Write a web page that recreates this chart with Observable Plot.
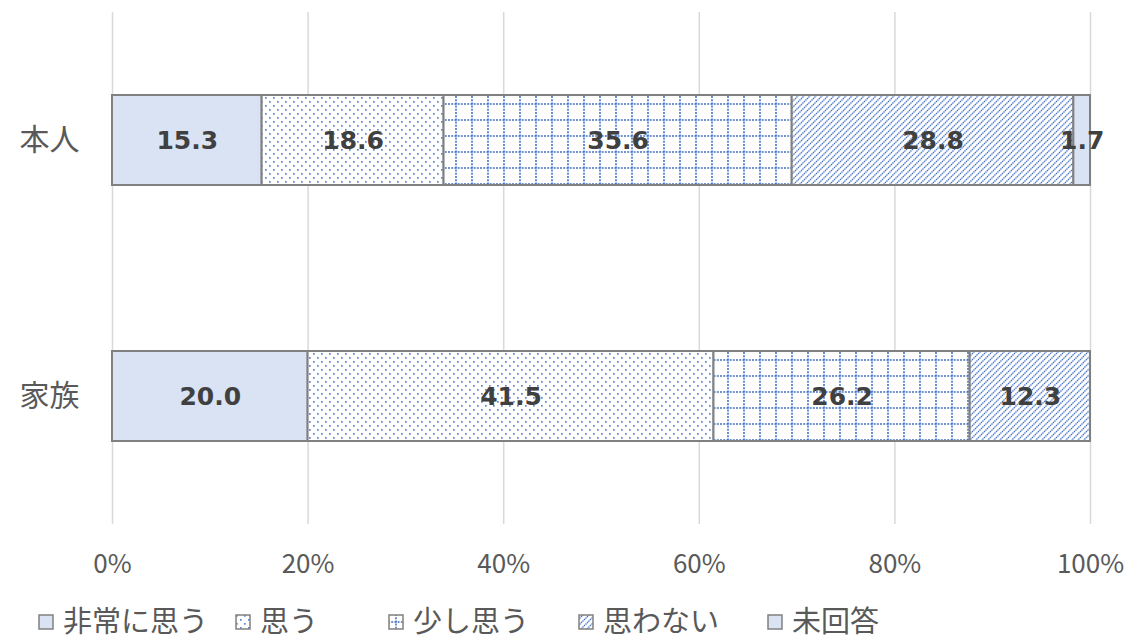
<!DOCTYPE html>
<html>
<head>
<meta charset="utf-8">
<script src="https://cdn.jsdelivr.net/npm/d3@7"></script>
<script src="https://cdn.jsdelivr.net/npm/@observablehq/plot@0.6"></script>
<style>
  body { margin: 0; background: #fff; font-family: "Noto Sans CJK JP", sans-serif; }
  #legend { position: relative; width: 1129px; height: 38px; color: #595959; font-size: 29px; }
  #legend .item { position: absolute; top: 0px; display: flex; align-items: center; white-space: nowrap; line-height: 38px; }
  #legend svg { margin-right: 9px; margin-top: 6px; }
</style>
</head>
<body>
<div id="chart"></div>
<div id="legend"></div>
<script>
// Respondent groups and answer categories (stacking order)
const groups = ["本人", "家族"];
const responses = ["非常に思う", "思う", "少し思う", "思わない", "未回答"];

// Percentages per answer, in the order of `responses`
const selfValues = [15.3, 18.6, 35.6, 28.8, 1.7];
const familyValues = [20.0, 41.5, 26.2, 12.3, 0];

// Axis ticks (percent)
const xTicks = [0, 20, 40, 60, 80, 100];

// Fill for each answer: solid tint or a blue pattern
const fills = ["#DAE3F3", "url(#pat-dots)", "url(#pat-grid)", "url(#pat-diag)", "#DAE3F3"];
const fillOf = r => fills[responses.indexOf(r)];

const rows = [];
groups.forEach((g, gi) => {
  const vals = gi === 0 ? selfValues : familyValues;
  responses.forEach((r, ri) => {
    if (vals[ri] > 0) rows.push({group: g, response: r, value: vals[ri]});
  });
});

const chart = Plot.plot({
  width: 1129,
  height: 600,
  marginLeft: 112,
  marginRight: 39,
  marginTop: 12,
  marginBottom: 76,
  style: {fontFamily: "'Noto Sans CJK JP', sans-serif", background: "#fff"},
  x: {domain: [0, 100]},
  y: {domain: groups, paddingInner: 0.6484, paddingOuter: 0.3242},
  fill: {type: "identity"},
  marks: [
    Plot.gridX(xTicks, {stroke: "#d9d9d9", strokeOpacity: 1, strokeWidth: 1.5}),
    Plot.axisX({ticks: xTicks, tickSize: 0, tickPadding: 30, tickFormat: d => d + "%",
      fontSize: 26, fill: "#595959", label: null}),
    Plot.axisY({tickSize: 0, tickPadding: 33, fontSize: 30, fill: "#595959", label: null}),
    Plot.barX(rows, Plot.stackX({x: "value", y: "group", z: "response",
      fill: d => fillOf(d.response), stroke: "#808080", strokeWidth: 2})),
    Plot.text(rows, Plot.stackX({x: "value", y: "group", z: "response",
      text: d => d.value.toFixed(1),
      fontFamily: "DejaVu Sans", fontWeight: "bold", fontSize: 25, fill: "#404040"}))
  ]
});

// Pattern definitions used by the bar fills and the legend swatches
const defs = `
  <pattern id="pat-dots" patternUnits="userSpaceOnUse" width="8" height="8">
    <rect width="8" height="8" fill="#fff"/>
    <rect x="1" y="1" width="1.7" height="1.7" fill="#5B85D0"/>
    <rect x="5" y="5" width="1.7" height="1.7" fill="#5B85D0"/>
  </pattern>
  <pattern id="pat-grid" patternUnits="userSpaceOnUse" width="16" height="16">
    <rect width="16" height="16" fill="#fff"/>
    <line x1="0" y1="8" x2="16" y2="8" stroke="#4472C4" stroke-width="1.6" stroke-dasharray="2 1.2"/>
    <line x1="8" y1="0" x2="8" y2="16" stroke="#4472C4" stroke-width="1.6" stroke-dasharray="2 1.2"/>
  </pattern>
  <pattern id="pat-diag" patternUnits="userSpaceOnUse" width="6" height="6">
    <rect width="6" height="6" fill="#fff"/>
    <path d="M-1.5,1.5 L1.5,-1.5 M0,6 L6,0 M4.5,7.5 L7.5,4.5" stroke="#4472C4" stroke-width="1.3" stroke-dasharray="1.4 0.7"/>
  </pattern>`;
d3.select(chart).insert("defs", ":first-child").html(defs);
document.getElementById("chart").appendChild(chart);

// Legend below the plot
const legendX = [38, 235, 388, 578, 767];
const legend = d3.select("#legend");
responses.forEach((r, i) => {
  const item = legend.append("div").attr("class", "item").style("left", legendX[i] + "px");
  const sw = item.append("svg").attr("width", 16).attr("height", 16);
  sw.append("rect").attr("x", 1).attr("y", 1).attr("width", 14).attr("height", 14)
    .attr("fill", fills[i]).attr("stroke", "#808080").attr("stroke-width", 1.5);
  item.append("span").text(r);
});
</script>
</body>
</html>
